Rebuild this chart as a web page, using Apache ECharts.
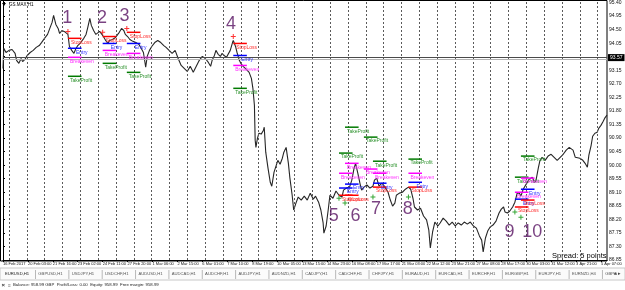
<!DOCTYPE html>
<html>
<head>
<meta charset="utf-8">
<script src="https://cdn.jsdelivr.net/npm/echarts@6/dist/echarts.min.js"></script>
<style>
html, body { margin: 0; padding: 0; background: #fff; }
#chart { width: 625px; height: 290px; }
</style>
</head>
<body>
<div id="chart"></div>
<script>
// H1 closes, bar number counted from the first bar on screen
var bars = [
    0, 1, 4, 8, 12, 16, 18, 21, 24, 26,
    29, 32, 36, 40, 44, 48, 51, 55, 59, 62,
    65, 67, 70, 73, 75, 78, 81, 83, 86, 88,
    91, 94, 96, 99, 102, 104, 107, 110, 112, 115,
    117, 120, 123, 125, 128, 131, 133, 136, 139, 141,
    145, 149, 152, 154, 157, 160, 162, 165, 168, 172,
    176, 180, 183, 186, 189, 191, 194, 197, 201, 205,
    209, 213, 216, 220, 224, 228, 232, 236, 240, 244,
    248, 252, 256, 260, 264, 268, 272, 275, 277, 280,
    282, 285, 288, 290, 293, 296, 298, 301, 304, 305,
    308, 310, 313, 315, 318, 321, 323, 326, 329, 331,
    333, 334, 335, 337, 339, 342, 345, 346, 348, 351,
    354, 356, 359, 362, 364, 367, 370, 372, 375, 378,
    380, 383, 385, 388, 391, 395, 399, 403, 407, 411,
    414, 418, 421, 424, 425, 428, 431, 433, 437, 441,
    445, 449, 451, 455, 459, 462, 465, 467, 470, 473,
    475, 478, 482, 486, 490, 492, 495, 498, 502, 506,
    510, 513, 516, 519, 521, 525, 529, 533, 537, 540,
    543, 545, 549, 553, 557, 561, 564, 566, 569, 572,
    576, 579, 583, 587, 591, 595, 599, 603, 607, 611,
    615, 619, 623, 627, 631, 634, 636, 639, 642, 645,
    649, 653, 657, 660, 663, 665, 668, 671, 675, 678,
    681, 684, 686, 689, 693, 697, 701, 704, 706, 709,
    711, 714, 718, 722, 726, 730, 734, 738, 742, 746,
    750, 752, 755, 758, 760, 764, 768, 771, 774, 776,
    779, 781, 784, 787, 789, 792, 795, 797, 800
];
var closes = [
    93.21, 93.88, 93.74, 93.81, 93.84, 93.71, 93.48, 93.38, 93.54, 93.44,
    93.51, 93.64, 93.74, 93.81, 93.91, 93.97, 94.07, 94.21, 94.34, 94.54,
    94.74, 94.97, 94.67, 94.54, 94.37, 94.47, 94.44, 94.50, 94.34, 93.94,
    93.81, 93.71, 93.84, 93.97, 94.04, 94.07, 94.21, 94.34, 94.54, 94.87,
    94.64, 94.47, 94.34, 94.37, 94.44, 94.34, 94.27, 94.14, 94.04, 94.14,
    94.17, 94.24, 94.34, 94.41, 94.54, 94.47, 94.34, 94.27, 94.17, 94.11,
    94.07, 94.01, 93.88, 93.74, 93.25, 93.61, 93.81, 93.94, 94.07, 94.14,
    94.07, 93.97, 93.91, 93.81, 93.71, 93.81, 93.54, 93.31, 93.21, 93.11,
    93.28, 93.08, 93.28, 93.48, 93.61, 93.54, 93.41, 93.28, 93.48, 93.64,
    93.81, 93.68, 93.61, 93.71, 93.64, 93.58, 93.54, 93.81, 94.07, 94.14,
    93.94, 93.74, 93.48, 93.38, 93.28, 93.21, 93.15, 93.08, 92.88, 92.55,
    91.99, 90.83, 90.59, 90.89, 91.06, 91.03, 91.16, 91.26, 90.43, 89.90,
    89.43, 89.30, 89.77, 90.00, 90.16, 90.03, 90.23, 90.43, 90.59, 90.06,
    89.57, 89.00, 88.51, 88.74, 88.94, 88.84, 88.97, 88.84, 89.07, 88.87,
    88.97, 88.77, 88.51, 88.08, 87.74, 87.98, 88.57, 89.00, 88.90, 89.14,
    89.00, 88.94, 89.17, 89.24, 89.27, 89.50, 89.90, 90.06, 89.73, 89.37,
    89.17, 89.27, 89.34, 89.24, 89.30, 89.50, 89.57, 89.30, 89.40, 89.27,
    89.10, 88.84, 88.64, 88.74, 89.00, 89.07, 89.10, 89.20, 89.27, 89.20,
    88.90, 88.61, 88.51, 88.57, 88.31, 88.18, 87.84, 87.25, 87.78, 88.11,
    87.98, 88.08, 88.24, 88.14, 88.01, 88.11, 87.98, 88.08, 88.01, 88.11,
    88.04, 88.11, 87.98, 87.91, 87.65, 87.51, 87.12, 87.58, 87.81, 87.94,
    88.01, 88.14, 88.41, 88.54, 88.61, 88.44, 88.41, 88.47, 88.61, 88.77,
    89.07, 89.07, 88.97, 89.20, 89.37, 89.53, 89.60, 89.43, 89.50, 89.90,
    90.13, 90.26, 90.16, 90.30, 90.36, 90.26, 90.16, 90.26, 90.36, 90.50,
    90.59, 90.63, 90.50, 90.26, 90.20, 90.23, 90.16, 90.06, 89.93, 90.33,
    90.66, 90.96, 91.06, 91.09, 91.22, 91.32, 91.46, 91.56, 91.66
];

// time scale labels, one every 33 bars
var dateLabels = ['16 Feb 2017', '20 Feb 03:00', '21 Feb 16:00', '23 Feb 02:00', '24 Feb 11:00',
    '27 Feb 20:00', '1 Mar 06:00', '2 Mar 15:00', '6 Mar 01:00', '7 Mar 10:00', '8 Mar 19:00',
    '10 Mar 05:00', '13 Mar 15:00', '14 Mar 23:00', '16 Mar 08:00', '17 Mar 17:00', '21 Mar 03:00',
    '22 Mar 12:00', '23 Mar 21:00', '27 Mar 08:00', '28 Mar 17:00', '30 Mar 03:00', '31 Mar 12:00',
    '3 Apr 21:00', '5 Apr 07:00'];
var barsPerLabel = 33;

// trades drawn on the chart
var tradeNames  = ['1', '2', '3', '4', '5', '6', '', '7', '8', '9', '10'];
var tradeSide   = ['sell', 'sell', 'sell', 'sell', 'buy', 'buy', 'buy', 'buy', 'buy', 'buy', 'buy'];
var tradeStart  = [86, 132, 164, 305, 445, 453, 478, 490, 537, 678, 686];
var signalPrice = [94.44, 94.41, 94.54, 94.27, 88.90, 88.74, null, 88.94, 88.94, 88.44, 88.27];
var stopLoss    = [94.21, 94.27, 94.41, 94.04, 89.00, 89.00, null, 89.27, 89.27, 88.61, 88.84];
var entryLevel  = [93.88, 94.04, 94.04, 93.64, 89.24, 89.37, null, 89.40, 89.43, 88.87, 89.20];
var breakEven   = [93.58, 93.81, 93.71, 93.31, 89.73, 90.06, 89.87, 89.73, 89.73, 89.10, 89.57];
var takeProfit  = [92.95, 93.38, 93.08, 92.55, 90.40, 91.26, 90.93, 90.13, 90.20, 89.60, 90.30];
var numberBar   = [85, 131, 161, 302, 438, 467, null, 494, 536, 671, 701];
var numberPrice = [94.87, 94.87, 94.94, 94.70, 88.31, 88.31, null, 88.54, 88.54, 87.78, 87.78];

var bidPrice = 93.57;
var askPrice = 93.51;
var spreadText = 'Spread: 5 points';
var symbolTitle = 'GS.MAX,H1';

var tabNames = ['EURUSD,H1', 'GBPUSD,H1', 'USDJPY,H1', 'USDCHF,H1', 'AUDUSD,H1', 'AUDCAD,H1',
    'AUDCHF,H1', 'AUDJPY,H1', 'AUDNZD,H1', 'CADJPY,H1', 'CADCHF,H1', 'CHFJPY,H1', 'EURAUD,H1',
    'EURCAD,H1', 'EURCHF,H1', 'EURGBP,H1', 'EURJPY,H1', 'EURNZD,H4', 'GBPA'];
var statusText = 'Balance: 958.99 GBP  Profit/Loss: 0.00  Equity: 958.99  Free margin: 958.99';

var FONT = '"Liberation Sans", Arial, sans-serif';
var levelNames = ['StopLoss', 'Entry', 'Breakeven', 'TakeProfit'];
var levelColors = ['#ff0000', '#0000ff', '#ff00ff', '#007a00'];
var levelTextColors = ['#ff3030', '#3030ff', '#ff30ff', '#2f932f'];
var levelTextDx = [3, 8, 2, 2];
var levelLen = 18;
// dotted vertical grid of the terminal (every ~23.6 bars)
var gridFirst = 7.9, gridStep = 23.63;

window.onload = function () {
    var myChart = echarts.init(document.getElementById('chart'));

    var priceData = [];
    for (var i = 0; i < bars.length; i++) {
        priceData.push([bars[i], closes[i]]);
    }

    var levelData = [];
    var levelArrays = [stopLoss, entryLevel, breakEven, takeProfit];
    var sellMarks = [], buyMarks = [], numbers = [];
    for (var t = 0; t < tradeNames.length; t++) {
        for (var k = 0; k < 4; k++) {
            if (levelArrays[k][t] != null) {
                levelData.push([tradeStart[t], tradeStart[t] + levelLen, levelArrays[k][t], k]);
            }
        }
        if (signalPrice[t] != null) {
            (tradeSide[t] == 'sell' ? sellMarks : buyMarks).push([tradeStart[t], signalPrice[t]]);
        }
        if (tradeNames[t]) {
            numbers.push({name: tradeNames[t], value: [numberBar[t], numberPrice[t]]});
        }
    }

    var gridLines = [];
    for (var g = gridFirst; g < 800; g += gridStep) {
        gridLines.push({xAxis: g});
    }

    var plus = 'path://M2,0H3V2H5V3H3V5H2V3H0V2H2Z';

    // tab strip and status bar
    var graphics = [
        {type: 'rect', shape: {x: 0.5, y: 0.5, width: 606.5, height: 260.5}, style: {fill: 'none', stroke: '#000', lineWidth: 1}, z: 1},
        {type: 'polygon', shape: {points: [[2, 3], [6, 3], [4, 6]]}, style: {fill: '#000'}},
        {type: 'text', x: 9, y: 2.5, style: {text: symbolTitle, font: '4.5px ' + FONT, fill: '#000'}},
        {type: 'text', x: 552, y: 252, style: {text: spreadText, font: '7.5px ' + FONT, fill: '#000'}},
        {type: 'rect', shape: {x: 0, y: 268, width: 625, height: 12}, style: {fill: '#fbfbfb', stroke: '#c8c8c8', lineWidth: 1}},
        {type: 'rect', shape: {x: 0, y: 281, width: 625, height: 9}, style: {fill: '#fff'}},
        {type: 'text', x: 1.5, y: 282.5, style: {text: '×', font: 'bold 6px ' + FONT, fill: '#333'}},
        {type: 'text', x: 8, y: 283, style: {text: '≡', font: '5px ' + FONT, fill: '#777'}},
        {type: 'text', x: 13, y: 283.3, style: {text: statusText, font: '4.3px ' + FONT, fill: '#222'}},
        {type: 'text', x: 614, y: 271.5, style: {text: '◂ ▸', font: '5px DejaVu Sans', fill: '#444'}}
    ];
    for (var n = 0; n < tabNames.length; n++) {
        var tx = 5 + 33.35 * n;
        graphics.push({type: 'text', x: tx, y: 272, style: {text: tabNames[n], font: '4.2px ' + FONT, fill: n == 0 ? '#222' : '#555'}});
        if (n < tabNames.length - 1) {
            graphics.push({type: 'line', shape: {x1: tx + 30.5, y1: 270, x2: tx + 30.5, y2: 279}, style: {stroke: '#b8b8b8', lineWidth: 1}});
        }
    }

    var option = {
        animation: false,
        backgroundColor: '#fff',
        grid: {left: 1, right: 18, top: 0, height: 260},
        xAxis: {
            type: 'value',
            min: 0,
            max: 800,
            interval: barsPerLabel,
            position: 'bottom',
            axisLine: {show: true, onZero: false, lineStyle: {color: '#000', width: 1}},
            axisTick: {show: true, length: 2, lineStyle: {color: '#000'}},
            axisLabel: {
                show: true, fontSize: 4, color: '#111', fontFamily: FONT, align: 'left', margin: 2,
                showMaxLabel: false,
                formatter: function (v) { return dateLabels[Math.round(v / barsPerLabel)] || ''; }
            },
            splitLine: {show: false}
        },
        yAxis: {
            type: 'value',
            position: 'right',
            min: 86.85,
            max: 95.466,
            interval: 0.45,
            axisLine: {show: true, lineStyle: {color: '#000', width: 1}},
            axisTick: {show: true, length: 2, lineStyle: {color: '#000'}},
            axisLabel: {
                fontSize: 5, color: '#111', fontFamily: FONT, margin: 2, showMaxLabel: false,
                formatter: function (v) { return v.toFixed(2); }
            },
            splitLine: {show: false}
        },
        graphic: graphics,
        series: [{
            name: 'grid',
            type: 'line',
            data: [],
            z: 1,
            markLine: {
                silent: true,
                symbol: ['none', 'none'],
                label: {show: false},
                lineStyle: {color: '#5a5a5a', type: [2, 2], width: 1},
                data: gridLines
            }
        }, {
            name: 'close',
            type: 'line',
            data: priceData,
            showSymbol: false,
            lineStyle: {color: '#262626', width: 1.1},
            z: 3,
            markLine: {
                silent: true,
                symbol: ['none', 'none'],
                data: [
                    {yAxis: bidPrice, lineStyle: {color: '#4a4a4a', width: 1, type: 'solid'},
                        label: {show: true, position: 'end', distance: 1, formatter: bidPrice.toFixed(2),
                            backgroundColor: '#000', color: '#fff', fontSize: 5, fontFamily: FONT, padding: [1, 2]}},
                    {yAxis: askPrice, lineStyle: {color: '#b4b4b4', width: 1, type: 'solid'}, label: {show: false}}
                ]
            }
        }, {
            name: 'levels',
            type: 'custom',
            data: levelData,
            encode: {x: [0, 1], y: 2},
            z: 5,
            renderItem: function (params, api) {
                var p1 = api.coord([api.value(0), api.value(2)]);
                var p2 = api.coord([api.value(1), api.value(2)]);
                var k = api.value(3);
                return {
                    type: 'group',
                    children: [{
                        type: 'line',
                        shape: {x1: p1[0], y1: p1[1], x2: p2[0], y2: p2[1]},
                        style: {stroke: levelColors[k], lineWidth: 1.5}
                    }, {
                        type: 'text',
                        x: p1[0] + levelTextDx[k],
                        y: p1[1] + 1.5,
                        style: {text: levelNames[k], fill: levelTextColors[k], font: '5px ' + FONT, verticalAlign: 'top'}
                    }]
                };
            }
        }, {
            name: 'sell',
            type: 'scatter',
            data: sellMarks,
            symbol: plus,
            symbolSize: 5,
            itemStyle: {color: '#ff0000'},
            z: 6
        }, {
            name: 'buy',
            type: 'scatter',
            data: buyMarks,
            symbol: plus,
            symbolSize: 5,
            itemStyle: {color: '#009000'},
            z: 6
        }, {
            name: 'numbers',
            type: 'scatter',
            data: numbers,
            symbol: 'circle',
            symbolSize: 0,
            itemStyle: {color: 'transparent'},
            label: {
                show: true, position: 'inside', formatter: '{b}',
                fontSize: 18, color: '#581262', fontFamily: FONT
            },
            z: 7
        }]
    };

    myChart.setOption(option);
};
</script>
</body>
</html>
